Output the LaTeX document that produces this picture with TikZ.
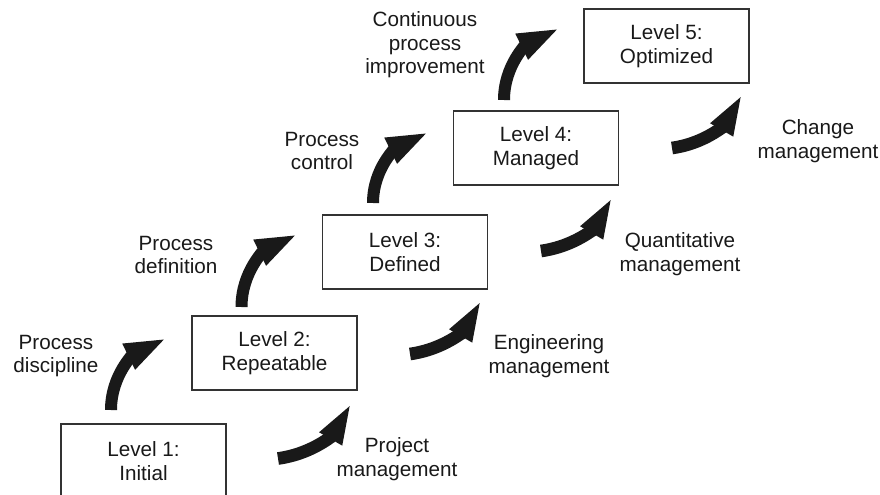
\documentclass[tikz,border=0pt]{standalone}
\usepackage{fontspec}
\setmainfont{Liberation Sans}
\usetikzlibrary{arrows.meta}

\begin{document}
\begin{tikzpicture}[
    x=0.75pt, y=0.75pt,
    font=\fontsize{15.5pt}{17.6pt}\selectfont,
    % Maturity level boxes
    level/.style={draw=black!80, line width=1pt, rectangle, minimum width=123.75pt, minimum height=55.5pt, align=center, text=black!90},
    % Labels beside the arrows
    tag/.style={align=center, text=black!90},
    % Curved block arrows
    procarrow/.style={draw=black!90, line width=9pt, -{Triangle[length=32pt, width=19pt]}},
    mgmtarrow/.style={draw=black!90, line width=9.5pt, -{Triangle[length=32pt, width=17pt]}}
]
\useasboundingbox (0,0) rectangle (880,-495);
\clip (0,0) rectangle (880,-495);

% ---------------------------------------------------
% 1. LEVELS (staircase, one step = 131 right, ~103 up)
% ---------------------------------------------------
\node[level] (lvl1) at (143.5, -461) {Level 1:\\Initial};
\node[level] (lvl2) at (274.5, -353) {Level 2:\\Repeatable};
\node[level] (lvl3) at (405, -252) {Level 3:\\Defined};
\node[level] (lvl4) at (536, -148) {Level 4:\\Managed};
\node[level] (lvl5) at (666.5, -46) {Level 5:\\Optimized};

% ---------------------------------------------------
% 2. LABELS
% ---------------------------------------------------
\node[tag] (disc) at (56, -356) {Process\\discipline};
\node[tag] (defn) at (176, -255) {Process\\definition};
\node[tag] (ctrl) at (322, -151) {Process\\control};
\node[tag] (impr) at (425, -45) {Continuous\\process\\improvement};

\node[tag] (proj) at (397, -459) {Project\\management};
\node[tag] (engm) at (549, -356) {Engineering\\management};
\node[tag] (quant) at (680, -254) {Quantitative\\management};
\node[tag] (chng) at (818, -141) {Change\\management};

% ---------------------------------------------------
% 3. ARROWS (left column rises, right column sweeps)
% ---------------------------------------------------
\coordinate (disc_base) at (111, -410);  \coordinate (disc_tip) at (167, -338);
\coordinate (defn_base) at (241.5, -307); \coordinate (defn_tip) at (298, -234);
\coordinate (ctrl_base) at (373, -203);  \coordinate (ctrl_tip) at (429, -132);
\coordinate (impr_base) at (504, -100);  \coordinate (impr_tip) at (560, -28);

\draw[procarrow] (disc_base) to[out=90, in=206] (disc_tip);
\draw[procarrow] (defn_base) to[out=90, in=206] (defn_tip);
\draw[procarrow] (ctrl_base) to[out=90, in=206] (ctrl_tip);
\draw[procarrow] (impr_base) to[out=90, in=206] (impr_tip);

\coordinate (proj_base) at (278, -458.5); \coordinate (proj_tip) at (352, -402);
\coordinate (engm_base) at (410, -354);   \coordinate (engm_tip) at (482, -299);
\coordinate (quant_base) at (541, -251);  \coordinate (quant_tip) at (613, -196);
\coordinate (chng_base) at (672, -148);   \coordinate (chng_tip) at (743, -93);

\draw[mgmtarrow] (proj_base) to[out=8, in=240] (proj_tip);
\draw[mgmtarrow] (engm_base) to[out=8, in=240] (engm_tip);
\draw[mgmtarrow] (quant_base) to[out=8, in=240] (quant_tip);
\draw[mgmtarrow] (chng_base) to[out=8, in=240] (chng_tip);

\end{tikzpicture}
\end{document}
